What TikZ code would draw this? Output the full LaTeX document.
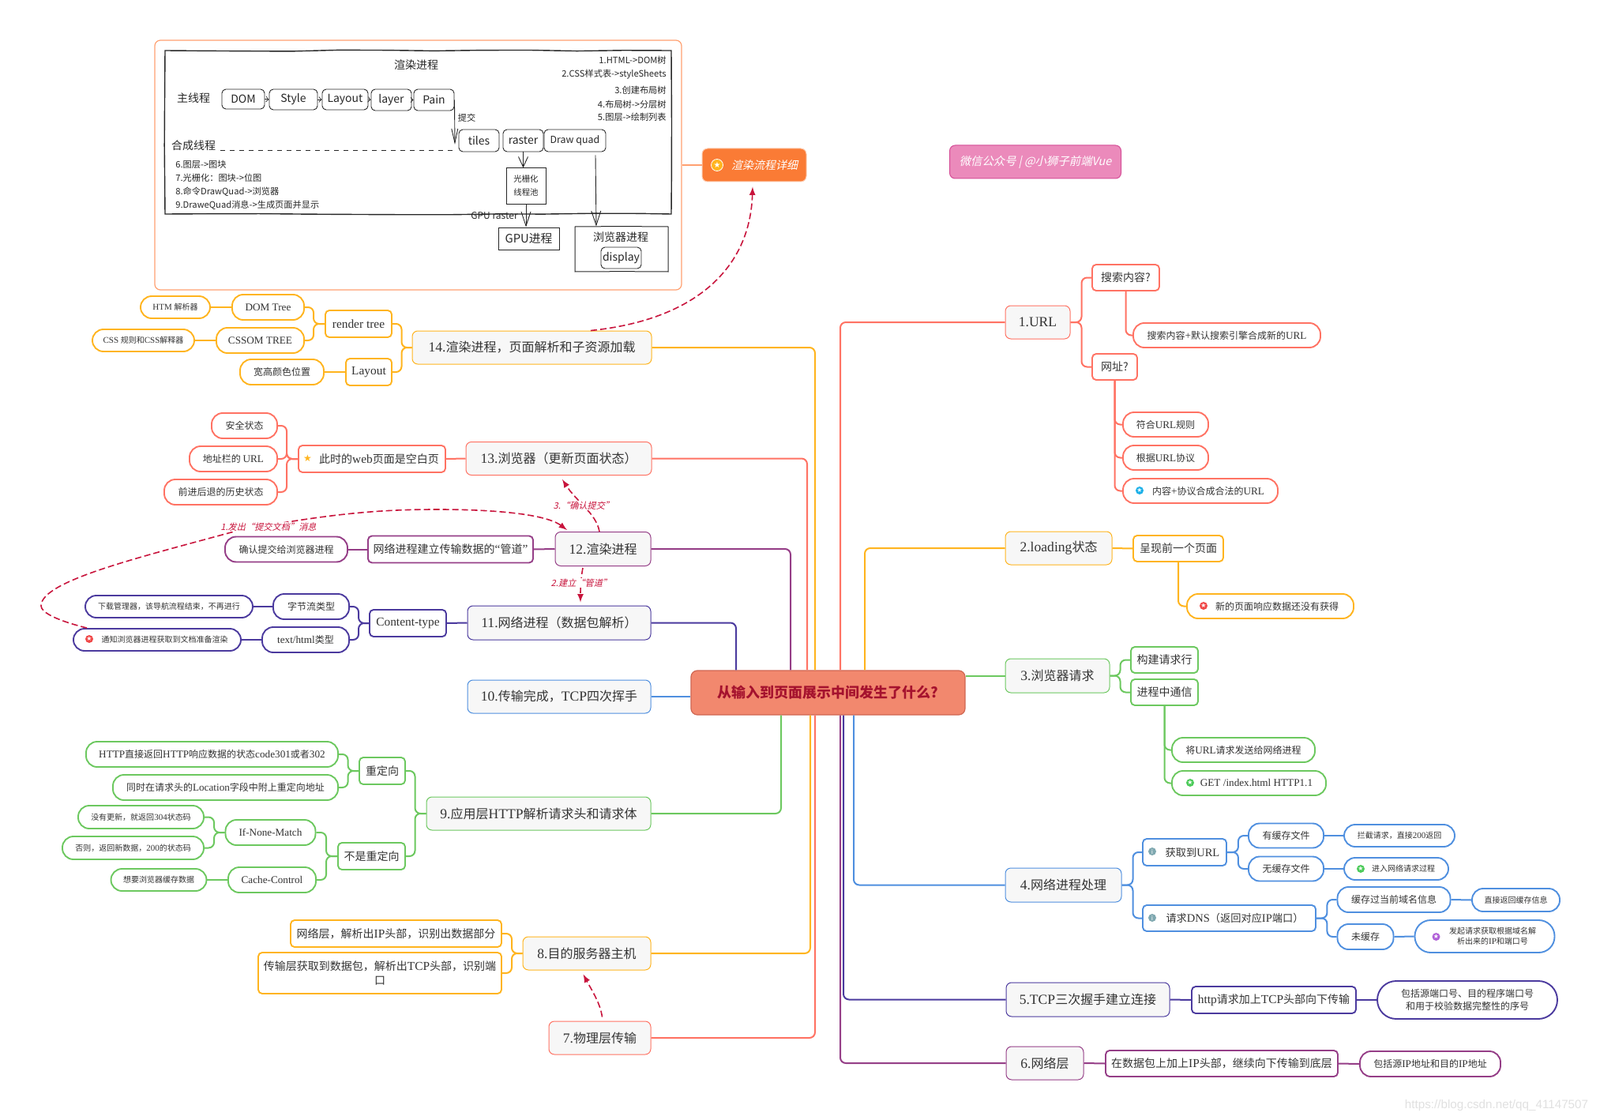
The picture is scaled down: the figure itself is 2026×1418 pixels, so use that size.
\documentclass[tikz,border=0pt]{standalone}
\usepackage{fontspec}
\setmainfont[Scale=1.1]{Liberation Serif}
\newfontfamily\cjk{Noto Sans CJK SC}
\newfontfamily\cjkit[FakeSlant=0.22]{Noto Sans CJK SC}
\newfontfamily\symfont{DejaVu Sans}
\newfontfamily\wmfont{Liberation Sans}
\usetikzlibrary{decorations.pathmorphing,arrows.meta}
% chinese runs go to the cjk font, the rest stays serif
\XeTeXinterchartokenstate=1
\newXeTeXintercharclass\cjkclass
\count255="2E80
\loop\XeTeXcharclass\count255=\cjkclass\ifnum\count255<"9FFF\advance\count255 by 1\repeat
\count255="FF00
\loop\XeTeXcharclass\count255=\cjkclass\ifnum\count255<"FFEF\advance\count255 by 1\repeat
\XeTeXcharclass`?=\cjkclass
\def\cnfont{\cjk}
\def\latinfont{\rmfamily}
\XeTeXinterchartoks 0 \cjkclass={\cnfont}
\XeTeXinterchartoks 4095 \cjkclass={\cnfont}
\XeTeXinterchartoks \cjkclass 0={\latinfont}
\XeTeXinterchartoks 4095 0={\latinfont}
\definecolor{lred}{HTML}{FF7263}
\definecolor{lyellow}{HTML}{FFB41E}
\definecolor{lgreen}{HTML}{6CC85F}
\definecolor{lblue}{HTML}{4F8FDF}
\definecolor{lindigo}{HTML}{4B3A9E}
\definecolor{lpurple}{HTML}{953E87}
\definecolor{txt}{HTML}{333333}
\definecolor{topicbg}{HTML}{F7F7F7}
\definecolor{rootbg}{HTML}{F2886E}
\definecolor{rootline}{HTML}{CF6652}
\definecolor{rootred}{HTML}{A5122E}
\definecolor{crim}{HTML}{C8143C}
\definecolor{imgline}{HTML}{FFA070}
\definecolor{flowbg}{HTML}{FA7B35}
\definecolor{pinkbg}{HTML}{EB8ABB}
\definecolor{pinkline}{HTML}{D44C96}
\definecolor{icored}{HTML}{F04848}
\definecolor{icoblue}{HTML}{1CB0E8}
\definecolor{icogreen}{HTML}{4CCB5A}
\definecolor{icoviolet}{HTML}{B060D8}
\definecolor{icoinfo}{HTML}{7FA8B0}
\tikzset{
	box/.style={inner sep=0pt,align=center,text=txt},
	wh/.style 2 args={minimum width=#1*.5pt,minimum height=#2*.5pt},
	topic/.style={box,draw=#1,fill=topicbg,line width=.5pt,rounded corners=3.5pt,font=\fontsize{8}{10}\selectfont},
	subnode/.style={box,draw=#1,fill=white,line width=.95pt,rounded corners=2.5pt,font=\fontsize{7}{9}\selectfont},
	leaf/.style={box,draw=#1,fill=white,line width=.95pt,rounded corners=7pt,font=\fontsize{6}{8}\selectfont},
	tinyleaf/.style={leaf=#1,font=\fontsize{5}{6.5}\selectfont},
	conn/.style={draw=#1,line width=1pt,rounded corners=3.5pt},
	ico/.style={circle,inner sep=0pt,minimum size=5pt,text=white,font=\def\latinfont{\symfont}\fontsize{4}{4}\selectfont},
	redarrow/.style={draw=crim,line width=.8pt,dash pattern=on 4pt off 2pt,->,>=latex},
	redlabel/.style={inner sep=.5pt,fill=white,text=crim,font=\def\cnfont{\cjkit}\def\latinfont{\cjkit}\fontsize{5.6}{7}\selectfont},
	sktext/.style={inner sep=0pt,text=black!85,font=\def\latinfont{\cjk}\fontsize{5.6}{6.5}\selectfont},
	skbox/.style={sktext,align=center,draw=black!85,line width=.45pt,rounded corners=2.5pt,font=\def\latinfont{\cjk}\fontsize{7}{9}\selectfont},
	skrect/.style={skbox,rounded corners=0pt,decorate,decoration={random steps,segment length=30pt,amplitude=.5pt},line width=.5pt},
	skarrow/.style={draw=black!85,line width=.45pt,->,>=to},
	skbarb/.style={draw=black!85,line width=.45pt,-{Straight Barb[length=#1,width=6pt]}},
}
\begin{document}
\begin{tikzpicture}[x=.5pt,y=-.5pt]
	\path[use as bounding box] (0,0) rectangle (2026,1418);

	% the pasted sketch of the render flow
	\node[draw=imgline,line width=.6pt,rounded corners=3.5pt,wh={667}{316}] (imgbox) at (529.5,209) {};
	\node[skrect,line width=.7pt,wh={641}{207}] (mainproc) at (529.5,167.5) {};
	\node[sktext,font=\fontsize{7}{9}\selectfont] (title) at (527,82) {渲染进程};
	\node[sktext,font=\fontsize{7}{9}\selectfont] (mainth) at (245,124) {主线程};
	\node[sktext,font=\fontsize{7}{9}\selectfont] (compth) at (245,184) {合成线程};
	\node[skbox,wh={54}{25}] (dombox) at (308,125.5) {DOM};
	\node[skbox,wh={61}{26}] (stylebox) at (371.5,126) {Style};
	\node[skbox,wh={58}{26}] (layoutbox) at (437,126) {Layout};
	\node[skbox,wh={51}{27}] (layerbox) at (495.5,126.5) {layer};
	\node[skbox,wh={51}{27}] (painbox) at (549.5,126.5) {Pain};
	\node[sktext] (commit) at (591,149) {提交};
	\node[skbox,wh={51}{28}] (tilesbox) at (606.5,178) {tiles};
	\node[skbox,wh={51}{28}] (rasterbox) at (662.5,178) {raster};
	\node[skbox,wh={78}{28},font=\def\latinfont{\cjk}\fontsize{6.2}{7}\selectfont] (quadbox) at (728,178) {Draw quad};
	\node[skrect,wh={50}{45},font=\fontsize{5.2}{8.5}\selectfont] (poolbox) at (666,235.5) {光栅化\\线程池};
	\node[skrect,wh={77}{28},font=\def\latinfont{\cjk}\fontsize{7.4}{8}\selectfont] (gpubox) at (669.5,302) {GPU进程};
	\node[skrect,wh={118}{57}] (browserbox) at (787,315.5) {};
	\node[sktext,font=\fontsize{7}{8}\selectfont] (browsertxt) at (786,300) {浏览器进程};
	\node[skbox,wh={51}{27}] (displaybox) at (786.5,326.5) {display};
	\node[sktext,font=\def\latinfont{\cjk}\fontsize{6}{6}\selectfont] (gpuraster) at (626,273) {GPU raster};
	\node[sktext,anchor=west] (note6) at (222,208) {6.图层->图块};
	\node[sktext,anchor=west] (note7) at (222,225) {7.光栅化：图块->位图};
	\node[sktext,anchor=west] (note8) at (222,243) {8.命令DrawQuad->浏览器};
	\node[sktext,anchor=west] (note9) at (222,260) {9.DraweQuad消息->生成页面并显示};
	\node[sktext,anchor=east] (note1) at (844,76) {1.HTML->DOM树};
	\node[sktext,anchor=east] (note2) at (844,94) {2.CSS样式表->styleSheets};
	\node[sktext,anchor=east] (note3) at (844,114) {3.创建布局树};
	\node[sktext,anchor=east] (note4) at (844,132) {4.布局树->分层树};
	\node[sktext,anchor=east] (note5) at (844,148) {5.图层->绘制列表};
	\coordinate (commitend) at (576,183);
	\coordinate (dashstart) at (279,191);
	\coordinate (dashend) at (577,191);
	\foreach \a/\b in {dombox/stylebox,stylebox/layoutbox,layoutbox/layerbox,layerbox/painbox}
		\draw[skarrow] (\a.east) -- (\b.west);
	\draw[draw=black!85,line width=.45pt,-{Straight Barb[length=9pt,width=4pt]}] (painbox.east) -- (commitend);
	\draw[draw=black!85,line width=.5pt,dashed] (dashstart) -- (dashend);
	\draw[skbarb=6.5pt] (rasterbox.south) -- (rasterbox.south |- poolbox.north);
	\draw[skbarb=9pt] (poolbox.south) -- (poolbox.south |- gpubox.north);
	\draw[skbarb=9pt] ([xshift=13pt,yshift=-2pt]quadbox.south) -- ([xshift=-16pt]browserbox.north);

	% central topic and the titles
	\node[box,draw=rootline,fill=rootbg,line width=.6pt,rounded corners=4pt,wh={347}{56},text=rootred,font=\fontsize{9}{11}\selectfont\bfseries] (root) at (1048.5,877) {从输入到页面展示中间发生了什么?};
	\node[box,draw=flowbg!40,fill=flowbg,line width=.5pt,rounded corners=3.5pt,wh={132}{42},text=white,font=\def\cnfont{\cjkit}\def\latinfont{\cjkit}\fontsize{7}{9}\selectfont] (flow) at (955,209) {\hspace*{13pt}渲染流程详细};
	\node[ico,fill=lyellow,draw=white,line width=.4pt,minimum size=7.5pt,font=\def\latinfont{\symfont}\fontsize{5}{5}\selectfont] (flowico) at (908,209) {★};
	\node[box,draw=pinkline,fill=pinkbg,line width=.5pt,rounded corners=3.5pt,wh={217}{42},text=white,font=\def\cnfont{\cjkit}\def\latinfont{\cjkit}\fontsize{7.2}{9}\selectfont] (wechat) at (1311,205) {微信公众号 | @小狮子前端Vue};
	\draw[draw=imgline,line width=.6pt] (imgbox.east) -- (flow.west);

	% left side
	\node[topic=lyellow,wh={303}{42}] (t14) at (673.5,440) {14.渲染进程，页面解析和子资源加载};
	\node[subnode=lyellow,wh={84}{34}] (rendertree) at (454,410) {render tree};
	\node[subnode=lyellow,wh={58}{34}] (layoutnode) at (467,471) {Layout};
	\node[leaf=lyellow,wh={91}{32}] (domtree) at (339.5,389) {DOM Tree};
	\node[leaf=lyellow,wh={111}{32}] (cssomtree) at (329.5,431) {CSSOM TREE};
	\node[leaf=lyellow,wh={106}{32}] (sizecolor) at (357,471) {宽高颜色位置};
	\node[tinyleaf=lyellow,wh={88}{28}] (htmparse) at (222,389) {HTM 解析器};
	\node[tinyleaf=lyellow,wh={129}{28}] (cssparse) at (181.5,431) {CSS 规则和CSS解释器};

	\node[topic=lred,wh={235}{42}] (t13) at (707.5,580.5) {13.浏览器（更新页面状态）};
	\node[subnode=lred,wh={186}{34}] (blankpage) at (471,581) {\hspace*{9pt}此时的web页面是空白页};
	\node[inner sep=0pt,text=lyellow,font=\def\latinfont{\symfont}\fontsize{6}{7}\selectfont] (blankstar) at (389.5,580) {★};
	\node[leaf=lred,wh={83}{32}] (safestate) at (309.5,539) {安全状态};
	\node[leaf=lred,wh={111}{32}] (addrbar) at (295.5,581) {地址栏的 URL};
	\node[leaf=lred,wh={143}{32}] (history) at (279.5,623) {前进后退的历史状态};

	\node[topic=lpurple,wh={121}{43}] (t12) at (763.5,695) {12.渲染进程};
	\node[subnode=lpurple,wh={209}{34}] (pipe) at (570.5,695.5) {网络进程建立传输数据的“管道”};
	\node[leaf=lpurple,wh={155}{32}] (confirm) at (362.5,695.5) {确认提交给浏览器进程};

	\node[topic=lindigo,wh={232}{43}] (t11) at (708,788.5) {11.网络进程（数据包解析）};
	\node[subnode=lindigo,wh={97}{34}] (ctype) at (516.5,789) {Content-type};
	\node[leaf=lindigo,wh={96}{32}] (bytestream) at (394,768) {字节流类型};
	\node[leaf=lindigo,wh={110}{32}] (htmltype) at (387,810) {text/html类型};
	\node[tinyleaf=lindigo,wh={212}{28}] (download) at (214,768) {下载管理器，该导航流程结束，不再进行};
	\node[tinyleaf=lindigo,wh={212}{28}] (notify) at (199,810) {\hspace*{9.5pt}通知浏览器进程获取到文档准备渲染};
	\node[ico,fill=icored] (notifyico) at (113,809) {★};

	\node[topic=lblue,wh={232}{42}] (t10) at (708,882) {10.传输完成，TCP四次挥手};

	\node[topic=lgreen,wh={284}{42}] (t9) at (682,1030) {9.应用层HTTP解析请求头和请求体};
	\node[subnode=lgreen,wh={58}{34}] (redir) at (484,976) {重定向};
	\node[subnode=lgreen,wh={85}{34}] (noredir) at (470.5,1084) {不是重定向};
	\node[leaf=lgreen,wh={319}{32}] (http302) at (268.5,955) {HTTP直接返回HTTP响应数据的状态code301或者302};
	\node[leaf=lgreen,wh={285}{32}] (location) at (285.5,997) {同时在请求头的Location字段中附上重定向地址};
	\node[leaf=lgreen,wh={114}{32}] (ifnone) at (342.5,1054) {If-None-Match};
	\node[leaf=lgreen,wh={111}{32}] (cachectl) at (344.5,1114) {Cache-Control};
	\node[tinyleaf=lgreen,wh={159}{29}] (nochange) at (178.5,1034.5) {没有更新，就返回304状态码};
	\node[tinyleaf=lgreen,wh={179}{29}] (newdata) at (168.5,1073.5) {否则，返回新数据，200的状态码};
	\node[tinyleaf=lgreen,wh={121}{28}] (wantcache) at (201,1114) {想要浏览器缓存数据};

	\node[topic=lyellow,wh={162}{42}] (t8) at (743,1207) {8.目的服务器主机};
	\node[subnode=lyellow,wh={267}{34}] (netparse) at (501.5,1182) {网络层，解析出IP头部，识别出数据部分};
	\node[subnode=lyellow,wh={308}{52}] (tcpparse) at (481,1232) {传输层获取到数据包，解析出TCP头部，识别端\\口};
	\node[topic=lred,wh={129}{42}] (t7) at (759.5,1314) {7.物理层传输};

	% right side
	\node[topic=lred,wh={82}{42}] (t1) at (1314,408) {1.URL};
	\node[subnode=lred,wh={85}{33}] (searchq) at (1425.5,351.5) {搜索内容?};
	\node[leaf=lred,wh={237}{31}] (searchurl) at (1553.5,424.5) {搜索内容+默认搜索引擎合成新的URL};
	\node[subnode=lred,wh={57}{33}] (urlq) at (1411.5,464.5) {网址?};
	\node[leaf=lred,wh={108}{31}] (urlrule) at (1476,537.5) {符合URL规则};
	\node[leaf=lred,wh={108}{31}] (urlproto) at (1476,579.5) {根据URL协议};
	\node[leaf=lred,wh={196}{31}] (urlmerge) at (1520,621.5) {\hspace*{10pt}内容+协议合成合法的URL};
	\node[ico,fill=icoblue] (urlico) at (1443,621) {★};

	\node[topic=lyellow,wh={135}{42}] (t2) at (1340.5,694) {2.loading状态};
	\node[subnode=lyellow,wh={114}{33}] (prevpage) at (1492,694.5) {呈现前一个页面};
	\node[leaf=lyellow,wh={211}{31}] (nodata) at (1608.5,767.5) {\hspace*{8.5pt}新的页面响应数据还没有获得};
	\node[ico,fill=icored] (nodataico) at (1524,767) {★};

	\node[topic=lgreen,wh={132}{43}] (t3) at (1339,855.5) {3.浏览器请求};
	\node[subnode=lgreen,wh={85}{33}] (buildreq) at (1474.5,835.5) {构建请求行};
	\node[subnode=lgreen,wh={85}{33}] (ipc) at (1474.5,876.5) {进程中通信};
	\node[leaf=lgreen,wh={181}{31}] (sendurl) at (1574.5,949.5) {将URL请求发送给网络进程};
	\node[leaf=lgreen,wh={195}{31}] (getline) at (1581.5,991.5) {\hspace*{9.5pt}GET /index.html HTTP1.1};
	\node[ico,fill=icogreen] (getico) at (1507,991) {★};

	\node[topic=lblue,wh={147}{43}] (t4) at (1346.5,1120.5) {4.网络进程处理};
	\node[subnode=lblue,wh={106}{34},font=\fontsize{6.6}{9}\selectfont] (geturl) at (1500,1079) {\hspace*{10pt}获取到URL};
	\node[ico,fill=icoinfo] (geturlico) at (1459,1078) {i};
	\node[subnode=lblue,wh={219}{33},font=\fontsize{6.6}{9}\selectfont] (reqdns) at (1556.5,1162.5) {\hspace*{7pt}请求DNS（返回对应IP端口）};
	\node[ico,fill=icoinfo] (reqdnsico) at (1459,1162) {i};
	\node[leaf=lblue,wh={95}{31}] (hascache) at (1628.5,1058) {有缓存文件};
	\node[leaf=lblue,wh={95}{31}] (nocache) at (1628.5,1100) {无缓存文件};
	\node[tinyleaf=lblue,wh={140}{28}] (intercept) at (1772,1058) {拦截请求，直接200返回};
	\node[tinyleaf=lblue,wh={132}{28}] (enternet) at (1768,1100) {\hspace*{9pt}进入网络请求过程};
	\node[ico,fill=icogreen] (enterico) at (1723,1100) {★};
	\node[leaf=lblue,wh={143}{32}] (cachedns) at (1765,1139) {缓存过当前域名信息};
	\node[leaf=lblue,wh={71}{32}] (uncached) at (1729,1186) {未缓存};
	\node[tinyleaf=lblue,wh={111}{29}] (retcache) at (1919.5,1139.5) {直接返回缓存信息};
	\node[tinyleaf=lblue,wh={177}{41},rounded corners=10pt] (askdns) at (1880,1185.5) {\hspace*{10pt}发起请求获取根据域名解\\\hspace*{10pt}析出来的IP和端口号};
	\node[ico,fill=icoviolet] (askico) at (1818.5,1186) {★};

	\node[topic=lindigo,wh={207}{43}] (t5) at (1377.5,1265.5) {5.TCP三次握手建立连接};
	\node[subnode=lindigo,wh={208}{34}] (tcphead) at (1613,1266) {http请求加上TCP头部向下传输};
	\node[leaf=lindigo,wh={228}{48},rounded corners=12pt] (portnum) at (1858,1266) {包括源端口号、目的程序端口号\\和用于校验数据完整性的序号};

	\node[topic=lpurple,wh={98}{42}] (t6) at (1323,1346) {6.网络层};
	\node[subnode=lpurple,wh={294}{33}] (iphead) at (1547,1346.5) {在数据包上加上IP头部，继续向下传输到底层};
	\node[leaf=lpurple,wh={178}{32}] (ipaddr) at (1811,1347) {包括源IP地址和目的IP地址};

	\node[inner sep=0pt,text=black!12,font=\def\latinfont{\wmfont}\fontsize{7.6}{9}\selectfont] (watermark) at (1895,1400) {https://blog.csdn.net/qq\_41147507};

	% branches out of the central topic
	\draw[conn=lyellow] (t14.east) -| ([xshift=-8.25pt]root.north);
	\draw[conn=lred] (t13.east) -| ([xshift=-13.25pt]root.north);
	\draw[conn=lpurple] (t12.east) -| ([xshift=-23.75pt]root.north);
	\draw[conn=lindigo] (t11.east) -| ([xshift=-58.25pt]root.north);
	\draw[conn=lblue] (t10.east) -- (t10.east -| root.west);
	\draw[conn=lgreen] (t9.east) -| ([xshift=-29.75pt]root.south);
	\draw[conn=lyellow] (t8.east) -| ([xshift=-11.25pt]root.south);
	\draw[conn=lred] (t7.east) -| ([xshift=-8.25pt]root.south);
	\draw[conn=lred] (t1.west) -| ([xshift=7.75pt]root.north);
	\draw[conn=lyellow] (t2.west) -| ([xshift=23.25pt]root.north);
	\draw[conn=lgreen] (t3.west) -- (t3.west -| root.east);
	\draw[conn=lblue] (t4.west) -| ([xshift=16.25pt]root.south);
	\draw[conn=lindigo] (t5.west) -| ([xshift=9.75pt]root.south);
	\draw[conn=lpurple] (t6.west) -| ([xshift=7.75pt]root.south);

	% forks
	\foreach \a/\b/\g in {t14/rendertree/13,t14/layoutnode/13,rendertree/domtree/14,rendertree/cssomtree/14,t8/netparse/13.5,t8/tcpparse/13.5}
		\draw[conn=lyellow] (\a.west) -- ++(-\g,0) |- (\b.east);
	\foreach \b in {safestate,addrbar,history}
		\draw[conn=lred] (blankpage.west) -- ++(-14,0) |- (\b.east);
	\foreach \a/\b/\g in {ctype/bytestream/13,ctype/htmltype/13}
		\draw[conn=lindigo] (\a.west) -- ++(-\g,0) |- (\b.east);
	\foreach \a/\b/\g in {t9/redir/14,t9/noredir/14,redir/http302/13.5,redir/location/13.5,noredir/ifnone/14,noredir/cachectl/14,ifnone/nochange/13.5,ifnone/newdata/13.5}
		\draw[conn=lgreen] (\a.west) -- ++(-\g,0) |- (\b.east);
	\foreach \a/\b/\g in {t1/searchq/14,t1/urlq/14}
		\draw[conn=lred] (\a.east) -- ++(\g,0) |- (\b.west);
	\foreach \a/\b/\g in {t3/buildreq/13,t3/ipc/13}
		\draw[conn=lgreen] (\a.east) -- ++(\g,0) |- (\b.west);
	\foreach \a/\b/\g in {t4/geturl/14,t4/reqdns/14,geturl/hascache/14,geturl/nocache/14,reqdns/cachedns/13.5,reqdns/uncached/13.5}
		\draw[conn=lblue] (\a.east) -- ++(\g,0) |- (\b.west);

	% children hanging below their parent
	\draw[conn=lred] (searchq.south) |- (searchurl.west);
	\foreach \b in {urlrule,urlproto,urlmerge}
		\draw[conn=lred] (urlq.south) |- (\b.west);
	\draw[conn=lyellow] (prevpage.south) |- (nodata.west);
	\foreach \b in {sendurl,getline}
		\draw[conn=lgreen] (ipc.south) |- (\b.west);

	% straight links
	\foreach \a/\b in {domtree/htmparse,cssomtree/cssparse,layoutnode/sizecolor}
		\draw[conn=lyellow] (\a.west) -- (\b.east);
	\draw[conn=lred] (t13.west) -- (blankpage.east);
	\foreach \a/\b in {t12/pipe,pipe/confirm}
		\draw[conn=lpurple] (\a.west) -- (\b.east);
	\foreach \a/\b in {t11/ctype,bytestream/download,htmltype/notify}
		\draw[conn=lindigo] (\a.west) -- (\b.east);
	\draw[conn=lgreen] (cachectl.west) -- (wantcache.east);
	\draw[conn=lyellow] (t2.east) -- (prevpage.west);
	\foreach \a/\b in {hascache/intercept,nocache/enternet,cachedns/retcache,uncached/askdns}
		\draw[conn=lblue] (\a.east) -- (\b.west);
	\foreach \a/\b in {t5/tcphead,tcphead/portnum}
		\draw[conn=lindigo] (\a.east) -- (\b.west);
	\foreach \a/\b in {t6/iphead,iphead/ipaddr}
		\draw[conn=lpurple] (\a.east) -- (\b.west);

	% red dashed steps
	\draw[redarrow] ([xshift=37.25pt]t14.north) .. controls (880,405) and (950,340) .. ([xshift=-1pt,yshift=-3pt]flow.south);
	\draw[redarrow] ([xshift=-44.5pt]notify.north) .. controls (70,785) and (52,775) .. (52,767) .. controls (52,735) and (180,705) .. (300,672) .. controls (420,650) and (480,645) .. (554,645) .. controls (620,645) and (690,650) .. ([xshift=-22.75pt,yshift=1pt]t12.north);
	\draw[redarrow] ([xshift=-2.25pt]t12.north) .. controls (755,650) and (730,635) .. ([xshift=2.25pt,yshift=-2.5pt]t13.south);
	\draw[redarrow] ([xshift=-12.75pt,yshift=-1pt]t12.south) .. controls (735,735) and (735,750) .. ([xshift=13.5pt,yshift=2pt]t11.north);
	\draw[redarrow] ([xshift=1.5pt,yshift=2.5pt]t7.north) .. controls (760,1270) and (750,1255) .. ([xshift=-2.25pt,yshift=-2.5pt]t8.south);
	\node[redlabel] (lab1) at (340,667) {1.发出“提交文档”消息};
	\node[redlabel] (lab2) at (736,738) {2.建立“管道”};
	\node[redlabel] (lab3) at (739,640) {3.“确认提交”};
\end{tikzpicture}
\end{document}
